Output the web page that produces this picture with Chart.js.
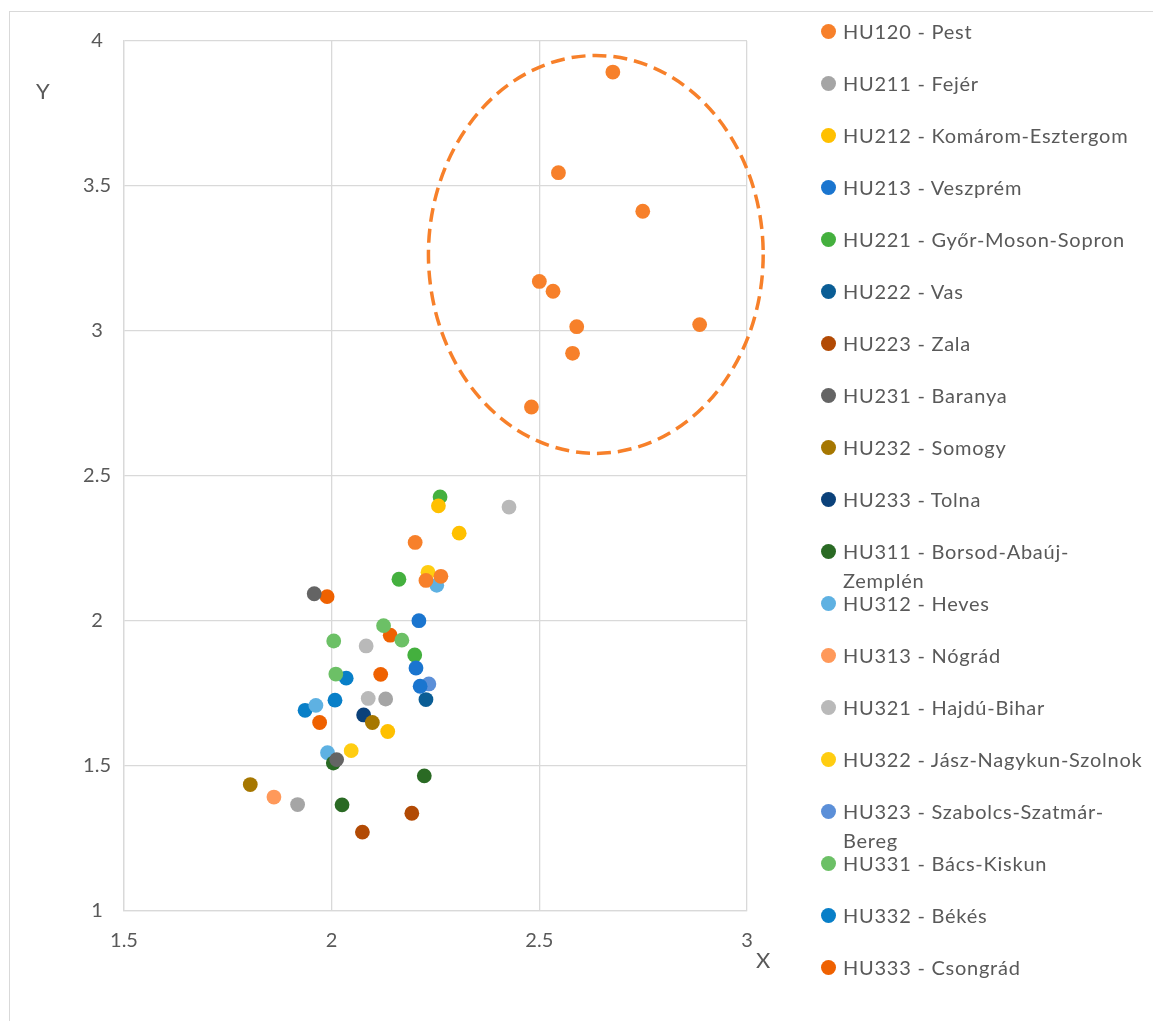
<!DOCTYPE html>
<html>
<head>
<meta charset="utf-8">
<script src="https://cdn.jsdelivr.net/npm/chart.js"></script>
<style>
body{margin:0;background:#fff;font-family:Lato, sans-serif;}
#wrap{position:relative;width:1153px;height:1021px;overflow:hidden;background:#fff;}
#frame{position:absolute;left:9px;top:11px;width:1300px;height:1200px;border-left:1.5px solid #d9d9d9;border-top:1.5px solid #d9d9d9;}
canvas{position:absolute;left:0;top:0;}
.axlbl{position:absolute;color:#595959;font-size:22px;line-height:22px;}
.item{position:absolute;left:821px;width:330px;line-height:29px;font-size:20px;letter-spacing:0.75px;color:#595959;}
.dot{position:absolute;left:0;top:7px;width:15px;height:15px;border-radius:50%;}
.txt{position:absolute;left:22px;width:304px;}
</style>
</head>
<body>
<div id="wrap">
  <div id="frame"></div>
  <canvas id="chart" width="1153" height="1021"></canvas>
  <div class="axlbl" style="left:36px;top:80px;">Y</div>
  <div class="axlbl" style="left:756px;top:949px;">X</div>
  <div id="legend"></div>
</div>
<script>
// regions (NUTS3) and their marker colours
var regions = [
  "HU120 - Pest", "HU211 - Fejér", "HU212 - Komárom-Esztergom", "HU213 - Veszprém",
  "HU221 - Győr-Moson-Sopron", "HU222 - Vas", "HU223 - Zala", "HU231 - Baranya",
  "HU232 - Somogy", "HU233 - Tolna", "HU311 - Borsod-Abaúj-Zemplén", "HU312 - Heves",
  "HU313 - Nógrád", "HU321 - Hajdú-Bihar", "HU322 - Jász-Nagykun-Szolnok",
  "HU323 - Szabolcs-Szatmár-Bereg", "HU331 - Bács-Kiskun", "HU332 - Békés", "HU333 - Csongrád"
];
var colors = [
  "#F7802A", "#A5A5A5", "#FFC000", "#1A75CF", "#44B03E", "#0A5D95", "#B24A04", "#646464",
  "#A67700", "#0B417A", "#2A6A24", "#5EB1E2", "#FF995A", "#B9B9B9", "#FFCD11",
  "#5B8FD8", "#6CC066", "#087FC8", "#EF6100"
];

// X values per region
var seriesX = [
  [2.677, 2.546, 2.749, 2.500, 2.533, 2.590, 2.886, 2.580, 2.481, 2.201, 2.227, 2.263],
  [1.918, 2.130],
  [2.257, 2.307, 2.135],
  [2.210, 2.203, 2.213],
  [2.261, 2.162, 2.200],
  [2.227],
  [2.193, 2.074],
  [1.958, 2.012],
  [2.098, 1.804],
  [2.077],
  [2.004, 2.223, 2.025],
  [2.253, 1.962, 1.990],
  [1.861],
  [2.427, 2.083, 2.088],
  [2.232, 2.047],
  [2.234],
  [2.125, 2.169, 2.005, 2.010],
  [2.035, 2.008, 1.936],
  [1.989, 2.141, 2.118, 1.971]
];
// Y values per region
var seriesY = [
  [3.893, 3.546, 3.413, 3.171, 3.137, 3.015, 3.022, 2.923, 2.738, 2.271, 2.140, 2.154],
  [1.367, 1.731],
  [2.397, 2.303, 1.619],
  [2.001, 1.838, 1.775],
  [2.428, 2.144, 1.883],
  [1.729],
  [1.337, 1.272],
  [2.094, 1.522],
  [1.650, 1.436],
  [1.676],
  [1.510, 1.466, 1.366],
  [2.123, 1.709, 1.546],
  [1.393],
  [2.393, 1.914, 1.733],
  [2.168, 1.553],
  [1.783],
  [1.984, 1.934, 1.931, 1.817],
  [1.803, 1.727, 1.692],
  [2.084, 1.951, 1.816, 1.650]
];

var xTicks = [1.5, 2, 2.5, 3];
var yTicks = [1, 1.5, 2, 2.5, 3, 3.5, 4];

// dashed ellipse round the Pest group: centre and radii in data units
var ellipseCenter = [2.636, 3.264];
var ellipseRadius = [0.403, 0.686];

var datasets = [];
for (let i = 0; i < regions.length; i++) {
  var pts = [];
  for (let j = 0; j < seriesX[i].length; j++) {
    pts.push({x: seriesX[i][j], y: seriesY[i][j]});
  }
  datasets.push({
    label: regions[i],
    data: pts,
    backgroundColor: colors[i],
    borderWidth: 0,
    pointRadius: 7.4,
    pointHoverRadius: 7.4
  });
}

var ellipsePlugin = {
  id: "ellipse",
  afterDatasetsDraw(chart) {
    var sx = chart.scales.x, sy = chart.scales.y;
    var cx = sx.getPixelForValue(ellipseCenter[0]);
    var cy = sy.getPixelForValue(ellipseCenter[1]);
    var rx = sx.getPixelForValue(ellipseCenter[0] + ellipseRadius[0]) - cx;
    var ry = cy - sy.getPixelForValue(ellipseCenter[1] + ellipseRadius[1]);
    var ctx = chart.ctx;
    ctx.save();
    ctx.beginPath();
    ctx.setLineDash([14, 7]);
    ctx.lineWidth = 3.5;
    ctx.strokeStyle = "#F7802A";
    ctx.ellipse(cx, cy, rx, ry, 0, 0, Math.PI * 2);
    ctx.stroke();
    ctx.restore();
  }
};

Chart.defaults.font.family = "Lato";
Chart.defaults.color = "#595959";

var grid = {color: "#D9D9D9", lineWidth: 1.3, drawTicks: false};
var border = {display: true, color: "#D9D9D9", width: 1.3};

new Chart(document.getElementById("chart"), {
  type: "scatter",
  data: {datasets: datasets},
  options: {
    responsive: false,
    animation: false,
    events: [],
    layout: {padding: {top: 41, right: 406, left: 0, bottom: 0}},
    plugins: {legend: {display: false}, tooltip: {enabled: false}},
    scales: {
      x: {
        type: "linear",
        min: xTicks[0], max: xTicks[xTicks.length - 1],
        afterBuildTicks: s => { s.ticks = xTicks.map(v => ({value: v})); },
        afterFit: s => { s.height = 110; },
        ticks: {font: {size: 20}, padding: 18, maxRotation: 0, callback: v => String(v)},
        grid: grid, border: border
      },
      y: {
        type: "linear",
        min: yTicks[0], max: yTicks[yTicks.length - 1],
        afterBuildTicks: s => { s.ticks = yTicks.map(v => ({value: v})); },
        afterFit: s => { s.width = 124; },
        ticks: {font: {size: 20}, padding: 13, crossAlign: "center", callback: v => String(v)},
        grid: grid, border: border
      }
    }
  },
  plugins: [ellipsePlugin]
});

// legend on the right, fixed row spacing like the original
var legend = document.getElementById("legend");
for (let i = 0; i < regions.length; i++) {
  var item = document.createElement("div");
  item.className = "item";
  item.style.top = (31 + 52 * i - 14.5) + "px";
  item.innerHTML = '<span class="dot" style="background:' + colors[i] + '"></span><span class="txt">' + regions[i] + '</span>';
  legend.appendChild(item);
}
</script>
</body>
</html>
